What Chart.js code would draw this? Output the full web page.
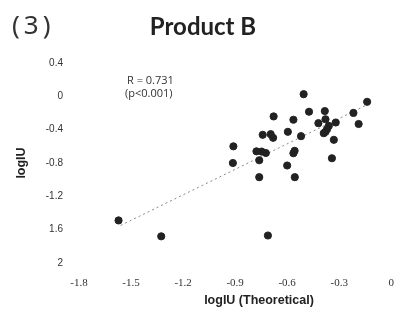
<!DOCTYPE html>
<html>
<head>
<meta charset="utf-8">
<script src="https://cdn.jsdelivr.net/npm/chart.js@4"></script>
<style>
  html, body { margin: 0; padding: 0; background: #fff; }
  #wrap { width: 408px; height: 322px; position: relative; }
</style>
</head>
<body>
<div id="wrap"><canvas id="c" width="408" height="322"></canvas></div>
<script>
// ---- data ----
const theoreticalLogIU = [-1.572, -1.326, -0.711, -0.910, -0.913, -0.761, -0.761, -0.777, -0.747, -0.723,
  -0.741, -0.695, -0.681, -0.678, -0.596, -0.564, -0.557, -0.564, -0.600, -0.556,
  -0.520, -0.505, -0.474, -0.420, -0.383, -0.379, -0.360, -0.370, -0.379, -0.389,
  -0.320, -0.331, -0.342, -0.218, -0.188, -0.139];
const measuredLogIU = [-1.489, -1.68, -1.67, -0.60, -0.80, -0.97, -0.767, -0.66, -0.663, -0.68,
  -0.462, -0.454, -0.498, -0.241, -0.426, -0.281, -0.654, -0.683, -0.830, -0.970,
  -0.478, 0.026, -0.185, -0.322, -0.177, -0.275, -0.355, -0.394, -0.426, -0.442,
  -0.314, -0.522, -0.743, -0.199, -0.332, -0.066];
const trendX = [-1.56, -0.134];
const trendY = [-1.549, -0.0955];
const xTickValues = [-1.8, -1.5, -1.2, -0.9, -0.6, -0.3, 0];
const xTickLabels = ["-1.8", "-1.5", "-1.2", "-0.9", "-0.6", "-0.3", "0"];
const yTickValues = [0.4, 0, -0.4, -0.8, -1.2, -1.6, -2];
const yTickLabels = ["0.4", "0", "-0.4", "-0.8", "-1.2", "1.6", "2"];
const panelLabel = "(3)";
const chartTitle = "Product B";
const xAxisTitle = "logIU (Theoretical)";
const yAxisTitle = "logIU";
const statLines = ["R = 0.731", "(p<0.001)"];

const points = theoreticalLogIU.map((x, i) => ({ x: x, y: measuredLogIU[i] }));
const trend = trendX.map((x, i) => ({ x: x, y: trendY[i] }));

function labelFor(values, labels, v) {
  let best = 0;
  for (let i = 0; i < values.length; i++) {
    if (Math.abs(values[i] - v) < Math.abs(values[best] - v)) best = i;
  }
  return labels[best];
}

const decor = {
  id: 'decor',
  afterDraw(chart) {
    const ctx = chart.ctx;
    ctx.save();
    ctx.fillStyle = '#333';
    ctx.textBaseline = 'alphabetic';
    ctx.textAlign = 'left';
    ctx.font = '26px "Noto Sans"';
    if ('letterSpacing' in ctx) ctx.letterSpacing = '4px';
    ctx.fillText(panelLabel, 12, 34);
    if ('letterSpacing' in ctx) ctx.letterSpacing = '0px';
    ctx.fillStyle = '#222';
    ctx.textAlign = 'center';
    ctx.font = 'bold 24px Lato';
    ctx.fillText(chartTitle, 203, 35);
    // stats text
    ctx.textBaseline = 'middle';
    ctx.fillStyle = '#333';
    ctx.textAlign = 'left';
    ctx.font = '11px "Open Sans"';
    ctx.fillText(statLines[0], 127, 81);
    ctx.fillText(statLines[1], 125, 94);
    // axis titles
    ctx.fillStyle = '#222';
    ctx.font = 'bold 12.5px "Liberation Sans"';
    ctx.textAlign = 'center';
    ctx.fillText(xAxisTitle, 259, 301);
    ctx.translate(22, 163);
    ctx.rotate(-Math.PI / 2);
    ctx.fillText(yAxisTitle, 0, 0);
    ctx.restore();
  }
};

new Chart(document.getElementById('c'), {
  type: 'scatter',
  data: {
    datasets: [
      {
        type: 'line',
        data: trend,
        borderColor: '#888',
        borderWidth: 1,
        borderDash: [2, 3],
        pointRadius: 0,
        fill: false,
        order: 2
      },
      {
        data: points,
        backgroundColor: '#222',
        borderColor: '#222',
        pointRadius: 3.6,
        pointHoverRadius: 3.6,
        order: 1
      }
    ]
  },
  options: {
    responsive: false,
    animation: false,
    events: [],
    layout: { padding: { top: 63, right: 11, left: 0, bottom: 0 } },
    plugins: { legend: { display: false }, tooltip: { enabled: false }, title: { display: false } },
    scales: {
      x: {
        type: 'linear',
        min: -1.8, max: 0,
        afterBuildTicks(scale) { scale.ticks = xTickValues.map(v => ({ value: v })); },
        afterFit(scale) { scale.height = 59; },
        grid: { display: false, drawTicks: false },
        border: { display: false },
        ticks: {
          padding: 14,
          color: '#333',
          font: { family: '"Liberation Serif"', size: 11 },
          maxRotation: 0,
          callback: (v) => labelFor(xTickValues, xTickLabels, v)
        }
      },
      y: {
        type: 'linear',
        min: -2, max: 0.4,
        afterBuildTicks(scale) { scale.ticks = yTickValues.map(v => ({ value: v })); },
        afterFit(scale) { scale.width = 79; },
        grid: { display: false, drawTicks: false },
        border: { display: false },
        ticks: {
          padding: 16,
          color: '#333',
          font: { family: '"Liberation Sans"', size: 10 },
          callback: (v) => labelFor(yTickValues, yTickLabels, v)
        }
      }
    }
  },
  plugins: [decor]
});
</script>
</body>
</html>
